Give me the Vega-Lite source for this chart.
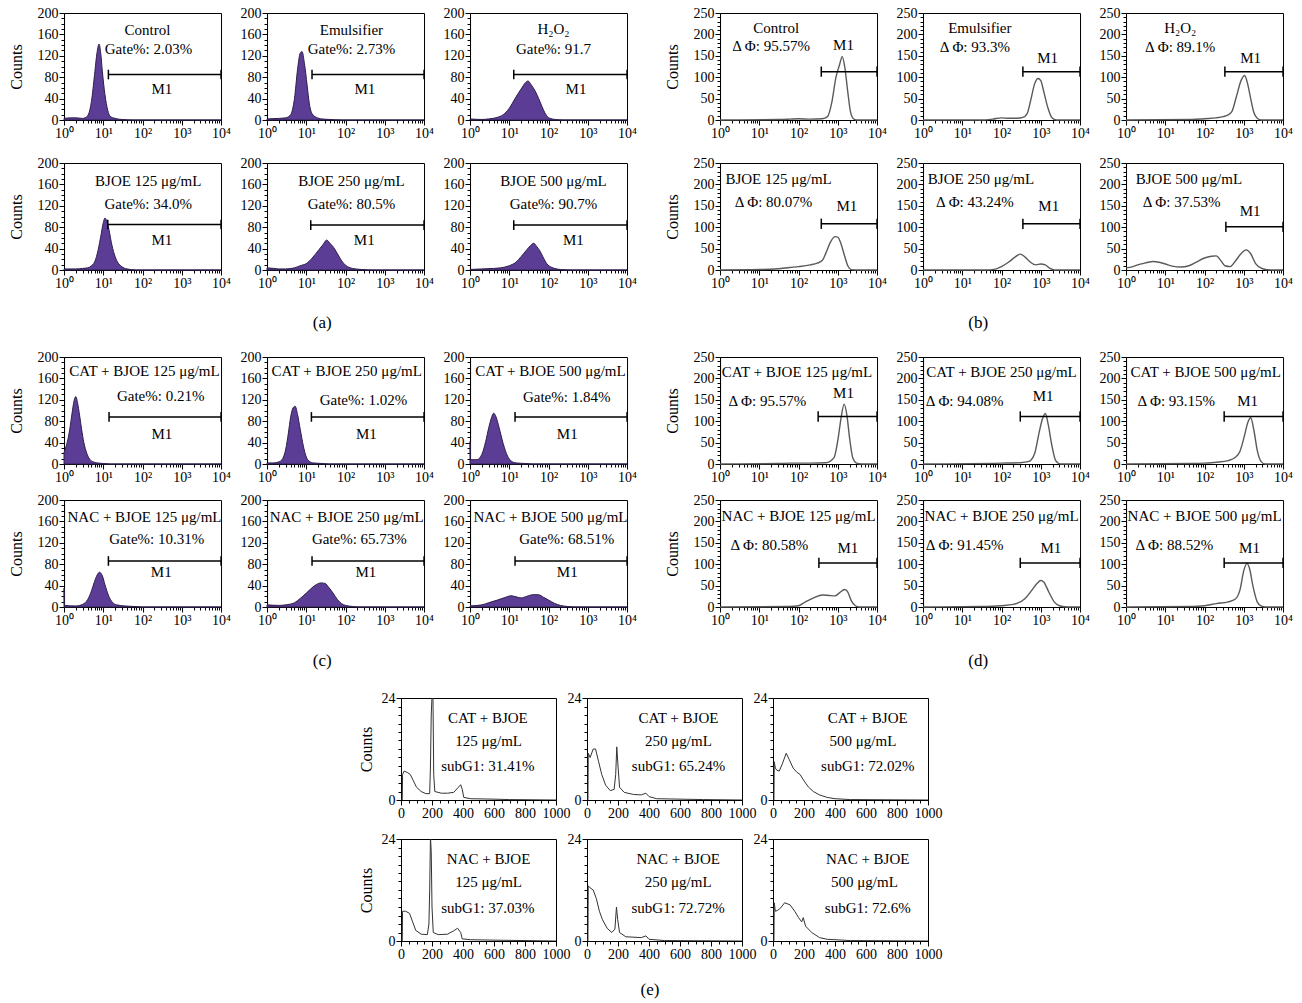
{
"$schema":"https://vega.github.io/schema/vega-lite/v6.json",
"background":"white",
"padding":{"left":7,"top":5,"right":5,"bottom":5},
"config":{
 "font":"Liberation Serif",
 "view":{"stroke":"#000","strokeWidth":1},
 "axis":{"grid":false,"domainColor":"#000","tickColor":"#000","labelColor":"#000","labelFont":"Liberation Serif","labelFontSize":14,"titleFont":"Liberation Serif","titleFontSize":16,"titleFontWeight":"normal","titleColor":"#000","labelPadding":1,"titlePadding":13},
 "text":{"font":"Liberation Serif","fontSize":15,"color":"#000"},
 "rule":{"color":"#000","strokeWidth":1.5},
 "title":{"font":"Liberation Serif","fontSize":17,"fontWeight":"normal","color":"#000","anchor":"middle"}
},
"spacing":18,
"center":true,
"vconcat":[
{"hconcat":[
 {"title":{"text":"(a)","orient":"bottom","anchor":"middle","offset":24},"spacing":14,"vconcat":[
  {"spacing":8,"hconcat":[
   {"width":157,"height":107,
    "encoding":{"x":{"field":"x","type":"quantitative","scale":{"type":"log","domain":[1,10000],"nice":false},"axis":{"title":null,"tickCount":40,"labelOverlap":false,"labelFlush":false,"labelExpr":"datum.value==1?'10⁰':datum.value==10?'10¹':datum.value==100?'10²':datum.value==1000?'10³':datum.value==10000?'10⁴':''","tickSize":{"condition":{"test":"datum.value==1||datum.value==10||datum.value==100||datum.value==1000||datum.value==10000","value":5},"value":3}}},
     "y":{"field":"y","type":"quantitative","scale":{"domain":[0,200],"nice":false},"axis":{"title":"Counts","tickCount":20,"labelOverlap":false,"labelExpr":"datum.value%40==0?datum.label:''","tickSize":{"condition":{"test":"datum.value%40==0","value":5},"value":3}}}},
    "layer":[
     {"data":{"values":[{"x":1,"y":3},{"x":1.5,"y":4},{"x":2,"y":4},{"x":3,"y":3},{"x":4,"y":8},{"x":5,"y":35},{"x":6,"y":85},{"x":7,"y":128},{"x":7.8,"y":142},{"x":8.6,"y":125},{"x":9.5,"y":90},{"x":11,"y":48},{"x":13,"y":18},{"x":15,"y":7},{"x":20,"y":3},{"x":30,"y":1},{"x":60,"y":0},{"x":10000,"y":0}]},"mark":{"type":"area","fill":"#5c3d96","stroke":"#2d1f4a","strokeWidth":1,"interpolate":"monotone"}},
     {"data":{"values":[{"x":13.5,"x2":10000,"y":85}]},"mark":"rule","encoding":{"x2":{"field":"x2"}}},
     {"data":{"values":[{"x":13.5,"y":76,"y2":94},{"x":10000,"y":76,"y2":94}]},"mark":"rule","encoding":{"y2":{"field":"y2"}}},
     {"data":{"values":[{"x":134,"y":168,"t":"Control"},{"x":142,"y":132,"t":"Gate%: 2.03%"},{"x":310,"y":58,"t":"M1"}]},"mark":"text","encoding":{"text":{"field":"t"}}}
    ]},
   {"width":157,"height":107,
    "encoding":{"x":{"field":"x","type":"quantitative","scale":{"type":"log","domain":[1,10000],"nice":false},"axis":{"title":null,"tickCount":40,"labelOverlap":false,"labelFlush":false,"labelExpr":"datum.value==1?'10⁰':datum.value==10?'10¹':datum.value==100?'10²':datum.value==1000?'10³':datum.value==10000?'10⁴':''","tickSize":{"condition":{"test":"datum.value==1||datum.value==10||datum.value==100||datum.value==1000||datum.value==10000","value":5},"value":3}}},
     "y":{"field":"y","type":"quantitative","scale":{"domain":[0,200],"nice":false},"axis":{"title":null,"tickCount":20,"labelOverlap":false,"labelExpr":"datum.value%40==0?datum.label:''","tickSize":{"condition":{"test":"datum.value%40==0","value":5},"value":3}}}},
    "layer":[
     {"data":{"values":[{"x":1,"y":2},{"x":2,"y":3},{"x":3,"y":4},{"x":4,"y":10},{"x":5,"y":40},{"x":6,"y":95},{"x":7,"y":125},{"x":7.8,"y":128},{"x":9,"y":105},{"x":10.5,"y":65},{"x":12,"y":30},{"x":14,"y":12},{"x":18,"y":5},{"x":25,"y":2},{"x":40,"y":1},{"x":80,"y":0},{"x":10000,"y":0}]},"mark":{"type":"area","fill":"#5c3d96","stroke":"#2d1f4a","strokeWidth":1,"interpolate":"monotone"}},
     {"data":{"values":[{"x":14,"x2":10000,"y":85}]},"mark":"rule","encoding":{"x2":{"field":"x2"}}},
     {"data":{"values":[{"x":14,"y":76,"y2":94},{"x":10000,"y":76,"y2":94}]},"mark":"rule","encoding":{"y2":{"field":"y2"}}},
     {"data":{"values":[{"x":141,"y":168,"t":"Emulsifier"},{"x":141,"y":132,"t":"Gate%: 2.73%"},{"x":310,"y":58,"t":"M1"}]},"mark":"text","encoding":{"text":{"field":"t"}}}
    ]},
   {"width":157,"height":107,
    "encoding":{"x":{"field":"x","type":"quantitative","scale":{"type":"log","domain":[1,10000],"nice":false},"axis":{"title":null,"tickCount":40,"labelOverlap":false,"labelFlush":false,"labelExpr":"datum.value==1?'10⁰':datum.value==10?'10¹':datum.value==100?'10²':datum.value==1000?'10³':datum.value==10000?'10⁴':''","tickSize":{"condition":{"test":"datum.value==1||datum.value==10||datum.value==100||datum.value==1000||datum.value==10000","value":5},"value":3}}},
     "y":{"field":"y","type":"quantitative","scale":{"domain":[0,200],"nice":false},"axis":{"title":null,"tickCount":20,"labelOverlap":false,"labelExpr":"datum.value%40==0?datum.label:''","tickSize":{"condition":{"test":"datum.value%40==0","value":5},"value":3}}}},
    "layer":[
     {"data":{"values":[{"x":1,"y":2},{"x":2,"y":1},{"x":3,"y":2},{"x":5,"y":5},{"x":7,"y":10},{"x":10,"y":22},{"x":14,"y":40},{"x":20,"y":58},{"x":26,"y":70},{"x":30,"y":73},{"x":36,"y":66},{"x":45,"y":55},{"x":60,"y":35},{"x":75,"y":18},{"x":90,"y":8},{"x":110,"y":3},{"x":150,"y":1},{"x":250,"y":0},{"x":10000,"y":0}]},"mark":{"type":"area","fill":"#5c3d96","stroke":"#2d1f4a","strokeWidth":1,"interpolate":"monotone"}},
     {"data":{"values":[{"x":13,"x2":10000,"y":85}]},"mark":"rule","encoding":{"x2":{"field":"x2"}}},
     {"data":{"values":[{"x":13,"y":76,"y2":94},{"x":10000,"y":76,"y2":94}]},"mark":"rule","encoding":{"y2":{"field":"y2"}}},
     {"data":{"values":[{"x":134,"y":170,"t":"H₂O₂"},{"x":134,"y":132,"t":"Gate%: 91.7"},{"x":500,"y":58,"t":"M1"}]},"mark":"text","encoding":{"text":{"field":"t"}}}
    ]}
  ]},
  {"spacing":8,"hconcat":[
   {"width":157,"height":107,
    "encoding":{"x":{"field":"x","type":"quantitative","scale":{"type":"log","domain":[1,10000],"nice":false},"axis":{"title":null,"tickCount":40,"labelOverlap":false,"labelFlush":false,"labelExpr":"datum.value==1?'10⁰':datum.value==10?'10¹':datum.value==100?'10²':datum.value==1000?'10³':datum.value==10000?'10⁴':''","tickSize":{"condition":{"test":"datum.value==1||datum.value==10||datum.value==100||datum.value==1000||datum.value==10000","value":5},"value":3}}},
     "y":{"field":"y","type":"quantitative","scale":{"domain":[0,200],"nice":false},"axis":{"title":"Counts","tickCount":20,"labelOverlap":false,"labelExpr":"datum.value%40==0?datum.label:''","tickSize":{"condition":{"test":"datum.value%40==0","value":5},"value":3}}}},
    "layer":[
     {"data":{"values":[{"x":1,"y":2},{"x":2,"y":2},{"x":3,"y":3},{"x":4,"y":4},{"x":5,"y":8},{"x":6,"y":15},{"x":7,"y":30},{"x":8.5,"y":60},{"x":10,"y":88},{"x":11,"y":97},{"x":12.5,"y":90},{"x":14,"y":75},{"x":16,"y":52},{"x":19,"y":30},{"x":23,"y":15},{"x":30,"y":6},{"x":40,"y":2},{"x":70,"y":0},{"x":10000,"y":0}]},"mark":{"type":"area","fill":"#5c3d96","stroke":"#2d1f4a","strokeWidth":1,"interpolate":"monotone"}},
     {"data":{"values":[{"x":13,"x2":10000,"y":85}]},"mark":"rule","encoding":{"x2":{"field":"x2"}}},
     {"data":{"values":[{"x":13,"y":76,"y2":94},{"x":10000,"y":76,"y2":94}]},"mark":"rule","encoding":{"y2":{"field":"y2"}}},
     {"data":{"values":[{"x":140,"y":166,"t":"BJOE 125 μg/mL"},{"x":140,"y":123,"t":"Gate%: 34.0%"},{"x":310,"y":56,"t":"M1"}]},"mark":"text","encoding":{"text":{"field":"t"}}}
    ]},
   {"width":157,"height":107,
    "encoding":{"x":{"field":"x","type":"quantitative","scale":{"type":"log","domain":[1,10000],"nice":false},"axis":{"title":null,"tickCount":40,"labelOverlap":false,"labelFlush":false,"labelExpr":"datum.value==1?'10⁰':datum.value==10?'10¹':datum.value==100?'10²':datum.value==1000?'10³':datum.value==10000?'10⁴':''","tickSize":{"condition":{"test":"datum.value==1||datum.value==10||datum.value==100||datum.value==1000||datum.value==10000","value":5},"value":3}}},
     "y":{"field":"y","type":"quantitative","scale":{"domain":[0,200],"nice":false},"axis":{"title":null,"tickCount":20,"labelOverlap":false,"labelExpr":"datum.value%40==0?datum.label:''","tickSize":{"condition":{"test":"datum.value%40==0","value":5},"value":3}}}},
    "layer":[
     {"data":{"values":[{"x":1,"y":4},{"x":1.5,"y":3},{"x":2,"y":2},{"x":3,"y":2},{"x":5,"y":4},{"x":7,"y":8},{"x":10,"y":12},{"x":14,"y":22},{"x":20,"y":36},{"x":27,"y":48},{"x":33,"y":56},{"x":40,"y":50},{"x":50,"y":42},{"x":65,"y":28},{"x":80,"y":17},{"x":100,"y":9},{"x":150,"y":3},{"x":250,"y":1},{"x":500,"y":0},{"x":10000,"y":0}]},"mark":{"type":"area","fill":"#5c3d96","stroke":"#2d1f4a","strokeWidth":1,"interpolate":"monotone"}},
     {"data":{"values":[{"x":13,"x2":10000,"y":84}]},"mark":"rule","encoding":{"x2":{"field":"x2"}}},
     {"data":{"values":[{"x":13,"y":75,"y2":93},{"x":10000,"y":75,"y2":93}]},"mark":"rule","encoding":{"y2":{"field":"y2"}}},
     {"data":{"values":[{"x":141,"y":166,"t":"BJOE 250 μg/mL"},{"x":141,"y":123,"t":"Gate%: 80.5%"},{"x":300,"y":56,"t":"M1"}]},"mark":"text","encoding":{"text":{"field":"t"}}}
    ]},
   {"width":157,"height":107,
    "encoding":{"x":{"field":"x","type":"quantitative","scale":{"type":"log","domain":[1,10000],"nice":false},"axis":{"title":null,"tickCount":40,"labelOverlap":false,"labelFlush":false,"labelExpr":"datum.value==1?'10⁰':datum.value==10?'10¹':datum.value==100?'10²':datum.value==1000?'10³':datum.value==10000?'10⁴':''","tickSize":{"condition":{"test":"datum.value==1||datum.value==10||datum.value==100||datum.value==1000||datum.value==10000","value":5},"value":3}}},
     "y":{"field":"y","type":"quantitative","scale":{"domain":[0,200],"nice":false},"axis":{"title":null,"tickCount":20,"labelOverlap":false,"labelExpr":"datum.value%40==0?datum.label:''","tickSize":{"condition":{"test":"datum.value%40==0","value":5},"value":3}}}},
    "layer":[
     {"data":{"values":[{"x":1,"y":1},{"x":2,"y":2},{"x":4,"y":3},{"x":6,"y":4},{"x":10,"y":8},{"x":15,"y":15},{"x":20,"y":25},{"x":28,"y":38},{"x":35,"y":46},{"x":42,"y":50},{"x":50,"y":44},{"x":60,"y":36},{"x":75,"y":22},{"x":90,"y":12},{"x":120,"y":5},{"x":200,"y":1},{"x":400,"y":0},{"x":10000,"y":0}]},"mark":{"type":"area","fill":"#5c3d96","stroke":"#2d1f4a","strokeWidth":1,"interpolate":"monotone"}},
     {"data":{"values":[{"x":13,"x2":10000,"y":84}]},"mark":"rule","encoding":{"x2":{"field":"x2"}}},
     {"data":{"values":[{"x":13,"y":75,"y2":93},{"x":10000,"y":75,"y2":93}]},"mark":"rule","encoding":{"y2":{"field":"y2"}}},
     {"data":{"values":[{"x":134,"y":166,"t":"BJOE 500 μg/mL"},{"x":134,"y":123,"t":"Gate%: 90.7%"},{"x":430,"y":56,"t":"M1"}]},"mark":"text","encoding":{"text":{"field":"t"}}}
    ]}
  ]}
 ]},
 {"title":{"text":"(b)","orient":"bottom","anchor":"middle","offset":24},"spacing":14,"vconcat":[
  {"spacing":8,"hconcat":[
   {"width":157,"height":107,
    "encoding":{"x":{"field":"x","type":"quantitative","scale":{"type":"log","domain":[1,10000],"nice":false},"axis":{"title":null,"tickCount":40,"labelOverlap":false,"labelFlush":false,"labelExpr":"datum.value==1?'10⁰':datum.value==10?'10¹':datum.value==100?'10²':datum.value==1000?'10³':datum.value==10000?'10⁴':''","tickSize":{"condition":{"test":"datum.value==1||datum.value==10||datum.value==100||datum.value==1000||datum.value==10000","value":5},"value":3}}},
     "y":{"field":"y","type":"quantitative","scale":{"domain":[0,250],"nice":false},"axis":{"title":"Counts","tickCount":25,"labelOverlap":false,"labelExpr":"datum.value%50==0?datum.label:''","tickSize":{"condition":{"test":"datum.value%50==0","value":5},"value":3}}}},
    "layer":[
     {"data":{"values":[{"x":1,"y":0},{"x":30,"y":1},{"x":60,"y":2},{"x":100,"y":3},{"x":200,"y":2},{"x":400,"y":3},{"x":550,"y":8},{"x":700,"y":40},{"x":900,"y":100},{"x":1100,"y":128},{"x":1300,"y":148},{"x":1500,"y":125},{"x":1800,"y":65},{"x":2100,"y":20},{"x":2500,"y":3},{"x":3000,"y":0},{"x":10000,"y":0}]},"mark":{"type":"line","stroke":"#5a5a5a","strokeWidth":1.4,"interpolate":"monotone"}},
     {"data":{"values":[{"x":380,"x2":10000,"y":113}]},"mark":"rule","encoding":{"x2":{"field":"x2"}}},
     {"data":{"values":[{"x":380,"y":101,"y2":125},{"x":10000,"y":101,"y2":125}]},"mark":"rule","encoding":{"y2":{"field":"y2"}}},
     {"data":{"values":[{"x":27,"y":215,"t":"Control"},{"x":20,"y":172,"t":"Δ Φ: 95.57%"},{"x":1400,"y":176,"t":"M1"}]},"mark":"text","encoding":{"text":{"field":"t"}}}
    ]},
   {"width":157,"height":107,
    "encoding":{"x":{"field":"x","type":"quantitative","scale":{"type":"log","domain":[1,10000],"nice":false},"axis":{"title":null,"tickCount":40,"labelOverlap":false,"labelFlush":false,"labelExpr":"datum.value==1?'10⁰':datum.value==10?'10¹':datum.value==100?'10²':datum.value==1000?'10³':datum.value==10000?'10⁴':''","tickSize":{"condition":{"test":"datum.value==1||datum.value==10||datum.value==100||datum.value==1000||datum.value==10000","value":5},"value":3}}},
     "y":{"field":"y","type":"quantitative","scale":{"domain":[0,250],"nice":false},"axis":{"title":null,"tickCount":25,"labelOverlap":false,"labelExpr":"datum.value%50==0?datum.label:''","tickSize":{"condition":{"test":"datum.value%50==0","value":5},"value":3}}}},
    "layer":[
     {"data":{"values":[{"x":1,"y":0},{"x":30,"y":0},{"x":60,"y":2},{"x":100,"y":5},{"x":150,"y":4},{"x":250,"y":4},{"x":350,"y":6},{"x":450,"y":15},{"x":550,"y":45},{"x":700,"y":85},{"x":850,"y":97},{"x":1000,"y":92},{"x":1200,"y":65},{"x":1500,"y":30},{"x":1900,"y":6},{"x":2500,"y":0},{"x":10000,"y":0}]},"mark":{"type":"line","stroke":"#5a5a5a","strokeWidth":1.4,"interpolate":"monotone"}},
     {"data":{"values":[{"x":350,"x2":10000,"y":113}]},"mark":"rule","encoding":{"x2":{"field":"x2"}}},
     {"data":{"values":[{"x":350,"y":101,"y2":125},{"x":10000,"y":101,"y2":125}]},"mark":"rule","encoding":{"y2":{"field":"y2"}}},
     {"data":{"values":[{"x":28,"y":215,"t":"Emulsifier"},{"x":21,"y":170,"t":"Δ Φ: 93.3%"},{"x":1500,"y":144,"t":"M1"}]},"mark":"text","encoding":{"text":{"field":"t"}}}
    ]},
   {"width":157,"height":107,
    "encoding":{"x":{"field":"x","type":"quantitative","scale":{"type":"log","domain":[1,10000],"nice":false},"axis":{"title":null,"tickCount":40,"labelOverlap":false,"labelFlush":false,"labelExpr":"datum.value==1?'10⁰':datum.value==10?'10¹':datum.value==100?'10²':datum.value==1000?'10³':datum.value==10000?'10⁴':''","tickSize":{"condition":{"test":"datum.value==1||datum.value==10||datum.value==100||datum.value==1000||datum.value==10000","value":5},"value":3}}},
     "y":{"field":"y","type":"quantitative","scale":{"domain":[0,250],"nice":false},"axis":{"title":null,"tickCount":25,"labelOverlap":false,"labelExpr":"datum.value%50==0?datum.label:''","tickSize":{"condition":{"test":"datum.value%50==0","value":5},"value":3}}}},
    "layer":[
     {"data":{"values":[{"x":1,"y":0},{"x":50,"y":1},{"x":100,"y":3},{"x":200,"y":5},{"x":300,"y":8},{"x":400,"y":12},{"x":500,"y":20},{"x":650,"y":55},{"x":850,"y":92},{"x":1050,"y":104},{"x":1250,"y":85},{"x":1500,"y":50},{"x":1800,"y":18},{"x":2200,"y":4},{"x":2800,"y":0},{"x":10000,"y":0}]},"mark":{"type":"line","stroke":"#5a5a5a","strokeWidth":1.4,"interpolate":"monotone"}},
     {"data":{"values":[{"x":330,"x2":10000,"y":113}]},"mark":"rule","encoding":{"x2":{"field":"x2"}}},
     {"data":{"values":[{"x":330,"y":101,"y2":125},{"x":10000,"y":101,"y2":125}]},"mark":"rule","encoding":{"y2":{"field":"y2"}}},
     {"data":{"values":[{"x":24,"y":215,"t":"H₂O₂"},{"x":24,"y":170,"t":"Δ Φ: 89.1%"},{"x":1500,"y":144,"t":"M1"}]},"mark":"text","encoding":{"text":{"field":"t"}}}
    ]}
  ]},
  {"spacing":8,"hconcat":[
   {"width":157,"height":107,
    "encoding":{"x":{"field":"x","type":"quantitative","scale":{"type":"log","domain":[1,10000],"nice":false},"axis":{"title":null,"tickCount":40,"labelOverlap":false,"labelFlush":false,"labelExpr":"datum.value==1?'10⁰':datum.value==10?'10¹':datum.value==100?'10²':datum.value==1000?'10³':datum.value==10000?'10⁴':''","tickSize":{"condition":{"test":"datum.value==1||datum.value==10||datum.value==100||datum.value==1000||datum.value==10000","value":5},"value":3}}},
     "y":{"field":"y","type":"quantitative","scale":{"domain":[0,250],"nice":false},"axis":{"title":"Counts","tickCount":25,"labelOverlap":false,"labelExpr":"datum.value%50==0?datum.label:''","tickSize":{"condition":{"test":"datum.value%50==0","value":5},"value":3}}}},
    "layer":[
     {"data":{"values":[{"x":1,"y":0},{"x":10,"y":1},{"x":30,"y":3},{"x":60,"y":6},{"x":100,"y":8},{"x":200,"y":12},{"x":300,"y":16},{"x":400,"y":22},{"x":500,"y":40},{"x":650,"y":65},{"x":850,"y":78},{"x":1000,"y":77},{"x":1200,"y":62},{"x":1500,"y":32},{"x":1800,"y":10},{"x":2200,"y":1},{"x":3000,"y":0},{"x":10000,"y":0}]},"mark":{"type":"line","stroke":"#5a5a5a","strokeWidth":1.4,"interpolate":"monotone"}},
     {"data":{"values":[{"x":380,"x2":10000,"y":108}]},"mark":"rule","encoding":{"x2":{"field":"x2"}}},
     {"data":{"values":[{"x":380,"y":96,"y2":120},{"x":10000,"y":96,"y2":120}]},"mark":"rule","encoding":{"y2":{"field":"y2"}}},
     {"data":{"values":[{"x":31,"y":212,"t":"BJOE 125 μg/mL"},{"x":23,"y":160,"t":"Δ Φ: 80.07%"},{"x":1700,"y":149,"t":"M1"}]},"mark":"text","encoding":{"text":{"field":"t"}}}
    ]},
   {"width":157,"height":107,
    "encoding":{"x":{"field":"x","type":"quantitative","scale":{"type":"log","domain":[1,10000],"nice":false},"axis":{"title":null,"tickCount":40,"labelOverlap":false,"labelFlush":false,"labelExpr":"datum.value==1?'10⁰':datum.value==10?'10¹':datum.value==100?'10²':datum.value==1000?'10³':datum.value==10000?'10⁴':''","tickSize":{"condition":{"test":"datum.value==1||datum.value==10||datum.value==100||datum.value==1000||datum.value==10000","value":5},"value":3}}},
     "y":{"field":"y","type":"quantitative","scale":{"domain":[0,250],"nice":false},"axis":{"title":null,"tickCount":25,"labelOverlap":false,"labelExpr":"datum.value%50==0?datum.label:''","tickSize":{"condition":{"test":"datum.value%50==0","value":5},"value":3}}}},
    "layer":[
     {"data":{"values":[{"x":1,"y":0},{"x":40,"y":0},{"x":70,"y":2},{"x":100,"y":8},{"x":150,"y":18},{"x":220,"y":30},{"x":300,"y":37},{"x":400,"y":30},{"x":550,"y":18},{"x":750,"y":12},{"x":1000,"y":14},{"x":1300,"y":12},{"x":1700,"y":4},{"x":2200,"y":0},{"x":10000,"y":0}]},"mark":{"type":"line","stroke":"#5a5a5a","strokeWidth":1.4,"interpolate":"monotone"}},
     {"data":{"values":[{"x":350,"x2":10000,"y":108}]},"mark":"rule","encoding":{"x2":{"field":"x2"}}},
     {"data":{"values":[{"x":350,"y":96,"y2":120},{"x":10000,"y":96,"y2":120}]},"mark":"rule","encoding":{"y2":{"field":"y2"}}},
     {"data":{"values":[{"x":30,"y":212,"t":"BJOE 250 μg/mL"},{"x":21,"y":160,"t":"Δ Φ: 43.24%"},{"x":1600,"y":149,"t":"M1"}]},"mark":"text","encoding":{"text":{"field":"t"}}}
    ]},
   {"width":157,"height":107,
    "encoding":{"x":{"field":"x","type":"quantitative","scale":{"type":"log","domain":[1,10000],"nice":false},"axis":{"title":null,"tickCount":40,"labelOverlap":false,"labelFlush":false,"labelExpr":"datum.value==1?'10⁰':datum.value==10?'10¹':datum.value==100?'10²':datum.value==1000?'10³':datum.value==10000?'10⁴':''","tickSize":{"condition":{"test":"datum.value==1||datum.value==10||datum.value==100||datum.value==1000||datum.value==10000","value":5},"value":3}}},
     "y":{"field":"y","type":"quantitative","scale":{"domain":[0,250],"nice":false},"axis":{"title":null,"tickCount":25,"labelOverlap":false,"labelExpr":"datum.value%50==0?datum.label:''","tickSize":{"condition":{"test":"datum.value%50==0","value":5},"value":3}}}},
    "layer":[
     {"data":{"values":[{"x":1,"y":5},{"x":1.5,"y":8},{"x":2,"y":12},{"x":3,"y":16},{"x":5,"y":20},{"x":7,"y":18},{"x":10,"y":14},{"x":15,"y":9},{"x":25,"y":7},{"x":40,"y":10},{"x":60,"y":18},{"x":100,"y":28},{"x":150,"y":32},{"x":200,"y":33},{"x":260,"y":22},{"x":330,"y":10},{"x":450,"y":8},{"x":600,"y":20},{"x":850,"y":38},{"x":1150,"y":47},{"x":1500,"y":38},{"x":2000,"y":15},{"x":3000,"y":3},{"x":5000,"y":0},{"x":10000,"y":0}]},"mark":{"type":"line","stroke":"#5a5a5a","strokeWidth":1.4,"interpolate":"monotone"}},
     {"data":{"values":[{"x":350,"x2":10000,"y":101}]},"mark":"rule","encoding":{"x2":{"field":"x2"}}},
     {"data":{"values":[{"x":350,"y":89,"y2":113},{"x":10000,"y":89,"y2":113}]},"mark":"rule","encoding":{"y2":{"field":"y2"}}},
     {"data":{"values":[{"x":40,"y":212,"t":"BJOE 500 μg/mL"},{"x":26,"y":160,"t":"Δ Φ: 37.53%"},{"x":1450,"y":139,"t":"M1"}]},"mark":"text","encoding":{"text":{"field":"t"}}}
    ]}
  ]}
 ]}
],"spacing":26},
{"spacing":21,"center":true,"vconcat":[
{"hconcat":[
 {"title":{"text":"(c)","orient":"bottom","anchor":"middle","offset":25},"spacing":7,"vconcat":[
  {"spacing":8,"hconcat":[
   {"width":157,"height":107,
    "encoding":{"x":{"field":"x","type":"quantitative","scale":{"type":"log","domain":[1,10000],"nice":false},"axis":{"title":null,"tickCount":40,"labelOverlap":false,"labelFlush":false,"labelExpr":"datum.value==1?'10⁰':datum.value==10?'10¹':datum.value==100?'10²':datum.value==1000?'10³':datum.value==10000?'10⁴':''","tickSize":{"condition":{"test":"datum.value==1||datum.value==10||datum.value==100||datum.value==1000||datum.value==10000","value":5},"value":3}}},
     "y":{"field":"y","type":"quantitative","scale":{"domain":[0,200],"nice":false},"axis":{"title":"Counts","tickCount":20,"labelOverlap":false,"labelExpr":"datum.value%40==0?datum.label:''","tickSize":{"condition":{"test":"datum.value%40==0","value":5},"value":3}}}},
    "layer":[
     {"data":{"values":[{"x":1,"y":22},{"x":1.2,"y":40},{"x":1.4,"y":65},{"x":1.6,"y":95},{"x":1.8,"y":118},{"x":2,"y":126},{"x":2.2,"y":115},{"x":2.5,"y":90},{"x":2.8,"y":65},{"x":3.2,"y":40},{"x":3.8,"y":20},{"x":4.5,"y":9},{"x":5.5,"y":4},{"x":7,"y":2},{"x":10,"y":1},{"x":15,"y":0},{"x":10000,"y":0}]},"mark":{"type":"area","fill":"#5c3d96","stroke":"#2d1f4a","strokeWidth":1,"interpolate":"monotone"}},
     {"data":{"values":[{"x":14,"x2":10000,"y":88}]},"mark":"rule","encoding":{"x2":{"field":"x2"}}},
     {"data":{"values":[{"x":14,"y":79,"y2":97},{"x":10000,"y":79,"y2":97}]},"mark":"rule","encoding":{"y2":{"field":"y2"}}},
     {"data":{"values":[{"x":112,"y":174,"t":"CAT + BJOE 125 μg/mL"},{"x":290,"y":127,"t":"Gate%: 0.21%"},{"x":310,"y":57,"t":"M1"}]},"mark":"text","encoding":{"text":{"field":"t"}}}
    ]},
   {"width":157,"height":107,
    "encoding":{"x":{"field":"x","type":"quantitative","scale":{"type":"log","domain":[1,10000],"nice":false},"axis":{"title":null,"tickCount":40,"labelOverlap":false,"labelFlush":false,"labelExpr":"datum.value==1?'10⁰':datum.value==10?'10¹':datum.value==100?'10²':datum.value==1000?'10³':datum.value==10000?'10⁴':''","tickSize":{"condition":{"test":"datum.value==1||datum.value==10||datum.value==100||datum.value==1000||datum.value==10000","value":5},"value":3}}},
     "y":{"field":"y","type":"quantitative","scale":{"domain":[0,200],"nice":false},"axis":{"title":null,"tickCount":20,"labelOverlap":false,"labelExpr":"datum.value%40==0?datum.label:''","tickSize":{"condition":{"test":"datum.value%40==0","value":5},"value":3}}}},
    "layer":[
     {"data":{"values":[{"x":1,"y":2},{"x":1.5,"y":2},{"x":2,"y":4},{"x":2.5,"y":10},{"x":3,"y":28},{"x":3.5,"y":58},{"x":4,"y":88},{"x":4.6,"y":105},{"x":5.2,"y":108},{"x":6,"y":92},{"x":7,"y":65},{"x":8.5,"y":32},{"x":10,"y":13},{"x":12,"y":5},{"x":15,"y":2},{"x":25,"y":1},{"x":40,"y":0},{"x":10000,"y":0}]},"mark":{"type":"area","fill":"#5c3d96","stroke":"#2d1f4a","strokeWidth":1,"interpolate":"monotone"}},
     {"data":{"values":[{"x":13.5,"x2":10000,"y":88}]},"mark":"rule","encoding":{"x2":{"field":"x2"}}},
     {"data":{"values":[{"x":13.5,"y":79,"y2":97},{"x":10000,"y":79,"y2":97}]},"mark":"rule","encoding":{"y2":{"field":"y2"}}},
     {"data":{"values":[{"x":107,"y":174,"t":"CAT + BJOE 250 μg/mL"},{"x":285,"y":119,"t":"Gate%: 1.02%"},{"x":340,"y":57,"t":"M1"}]},"mark":"text","encoding":{"text":{"field":"t"}}}
    ]},
   {"width":157,"height":107,
    "encoding":{"x":{"field":"x","type":"quantitative","scale":{"type":"log","domain":[1,10000],"nice":false},"axis":{"title":null,"tickCount":40,"labelOverlap":false,"labelFlush":false,"labelExpr":"datum.value==1?'10⁰':datum.value==10?'10¹':datum.value==100?'10²':datum.value==1000?'10³':datum.value==10000?'10⁴':''","tickSize":{"condition":{"test":"datum.value==1||datum.value==10||datum.value==100||datum.value==1000||datum.value==10000","value":5},"value":3}}},
     "y":{"field":"y","type":"quantitative","scale":{"domain":[0,200],"nice":false},"axis":{"title":null,"tickCount":20,"labelOverlap":false,"labelExpr":"datum.value%40==0?datum.label:''","tickSize":{"condition":{"test":"datum.value%40==0","value":5},"value":3}}}},
    "layer":[
     {"data":{"values":[{"x":1,"y":42},{"x":1.03,"y":8},{"x":1.5,"y":8},{"x":2,"y":18},{"x":2.5,"y":42},{"x":3,"y":68},{"x":3.5,"y":86},{"x":4,"y":95},{"x":4.6,"y":88},{"x":5.5,"y":68},{"x":7,"y":38},{"x":9,"y":15},{"x":11,"y":6},{"x":15,"y":2},{"x":25,"y":1},{"x":40,"y":0},{"x":10000,"y":0}]},"mark":{"type":"area","fill":"#5c3d96","stroke":"#2d1f4a","strokeWidth":1,"interpolate":"monotone"}},
     {"data":{"values":[{"x":14,"x2":10000,"y":88}]},"mark":"rule","encoding":{"x2":{"field":"x2"}}},
     {"data":{"values":[{"x":14,"y":79,"y2":97},{"x":10000,"y":79,"y2":97}]},"mark":"rule","encoding":{"y2":{"field":"y2"}}},
     {"data":{"values":[{"x":112,"y":174,"t":"CAT + BJOE 500 μg/mL"},{"x":290,"y":126,"t":"Gate%: 1.84%"},{"x":300,"y":57,"t":"M1"}]},"mark":"text","encoding":{"text":{"field":"t"}}}
    ]}
  ]},
  {"spacing":8,"hconcat":[
   {"width":157,"height":107,
    "encoding":{"x":{"field":"x","type":"quantitative","scale":{"type":"log","domain":[1,10000],"nice":false},"axis":{"title":null,"tickCount":40,"labelOverlap":false,"labelFlush":false,"labelExpr":"datum.value==1?'10⁰':datum.value==10?'10¹':datum.value==100?'10²':datum.value==1000?'10³':datum.value==10000?'10⁴':''","tickSize":{"condition":{"test":"datum.value==1||datum.value==10||datum.value==100||datum.value==1000||datum.value==10000","value":5},"value":3}}},
     "y":{"field":"y","type":"quantitative","scale":{"domain":[0,200],"nice":false},"axis":{"title":"Counts","tickCount":20,"labelOverlap":false,"labelExpr":"datum.value%40==0?datum.label:''","tickSize":{"condition":{"test":"datum.value%40==0","value":5},"value":3}}}},
    "layer":[
     {"data":{"values":[{"x":1,"y":35},{"x":1.03,"y":3},{"x":2,"y":2},{"x":3,"y":5},{"x":4,"y":14},{"x":5,"y":30},{"x":6,"y":48},{"x":7,"y":60},{"x":8,"y":65},{"x":9.5,"y":58},{"x":11,"y":42},{"x":13.5,"y":22},{"x":17,"y":9},{"x":22,"y":4},{"x":35,"y":2},{"x":60,"y":1},{"x":100,"y":0},{"x":10000,"y":0}]},"mark":{"type":"area","fill":"#5c3d96","stroke":"#2d1f4a","strokeWidth":1,"interpolate":"monotone"}},
     {"data":{"values":[{"x":13.5,"x2":10000,"y":86}]},"mark":"rule","encoding":{"x2":{"field":"x2"}}},
     {"data":{"values":[{"x":13.5,"y":77,"y2":95},{"x":10000,"y":77,"y2":95}]},"mark":"rule","encoding":{"y2":{"field":"y2"}}},
     {"data":{"values":[{"x":112,"y":168,"t":"NAC + BJOE 125 μg/mL"},{"x":230,"y":127,"t":"Gate%: 10.31%"},{"x":300,"y":65,"t":"M1"}]},"mark":"text","encoding":{"text":{"field":"t"}}}
    ]},
   {"width":157,"height":107,
    "encoding":{"x":{"field":"x","type":"quantitative","scale":{"type":"log","domain":[1,10000],"nice":false},"axis":{"title":null,"tickCount":40,"labelOverlap":false,"labelFlush":false,"labelExpr":"datum.value==1?'10⁰':datum.value==10?'10¹':datum.value==100?'10²':datum.value==1000?'10³':datum.value==10000?'10⁴':''","tickSize":{"condition":{"test":"datum.value==1||datum.value==10||datum.value==100||datum.value==1000||datum.value==10000","value":5},"value":3}}},
     "y":{"field":"y","type":"quantitative","scale":{"domain":[0,200],"nice":false},"axis":{"title":null,"tickCount":20,"labelOverlap":false,"labelExpr":"datum.value%40==0?datum.label:''","tickSize":{"condition":{"test":"datum.value%40==0","value":5},"value":3}}}},
    "layer":[
     {"data":{"values":[{"x":1,"y":4},{"x":2,"y":3},{"x":3,"y":4},{"x":5,"y":8},{"x":7,"y":16},{"x":10,"y":26},{"x":14,"y":36},{"x":18,"y":42},{"x":24,"y":45},{"x":30,"y":44},{"x":38,"y":36},{"x":48,"y":26},{"x":62,"y":14},{"x":80,"y":6},{"x":100,"y":3},{"x":150,"y":1},{"x":250,"y":0},{"x":10000,"y":0}]},"mark":{"type":"area","fill":"#5c3d96","stroke":"#2d1f4a","strokeWidth":1,"interpolate":"monotone"}},
     {"data":{"values":[{"x":14,"x2":10000,"y":86}]},"mark":"rule","encoding":{"x2":{"field":"x2"}}},
     {"data":{"values":[{"x":14,"y":77,"y2":95},{"x":10000,"y":77,"y2":95}]},"mark":"rule","encoding":{"y2":{"field":"y2"}}},
     {"data":{"values":[{"x":107,"y":168,"t":"NAC + BJOE 250 μg/mL"},{"x":225,"y":127,"t":"Gate%: 65.73%"},{"x":330,"y":65,"t":"M1"}]},"mark":"text","encoding":{"text":{"field":"t"}}}
    ]},
   {"width":157,"height":107,
    "encoding":{"x":{"field":"x","type":"quantitative","scale":{"type":"log","domain":[1,10000],"nice":false},"axis":{"title":null,"tickCount":40,"labelOverlap":false,"labelFlush":false,"labelExpr":"datum.value==1?'10⁰':datum.value==10?'10¹':datum.value==100?'10²':datum.value==1000?'10³':datum.value==10000?'10⁴':''","tickSize":{"condition":{"test":"datum.value==1||datum.value==10||datum.value==100||datum.value==1000||datum.value==10000","value":5},"value":3}}},
     "y":{"field":"y","type":"quantitative","scale":{"domain":[0,200],"nice":false},"axis":{"title":null,"tickCount":20,"labelOverlap":false,"labelExpr":"datum.value%40==0?datum.label:''","tickSize":{"condition":{"test":"datum.value%40==0","value":5},"value":3}}}},
    "layer":[
     {"data":{"values":[{"x":1,"y":2},{"x":2,"y":4},{"x":3,"y":8},{"x":5,"y":13},{"x":8,"y":18},{"x":11,"y":21},{"x":15,"y":19},{"x":20,"y":17},{"x":28,"y":20},{"x":40,"y":23},{"x":55,"y":23},{"x":75,"y":18},{"x":100,"y":13},{"x":140,"y":7},{"x":200,"y":3},{"x":300,"y":1},{"x":500,"y":0},{"x":10000,"y":0}]},"mark":{"type":"area","fill":"#5c3d96","stroke":"#2d1f4a","strokeWidth":1,"interpolate":"monotone"}},
     {"data":{"values":[{"x":14,"x2":10000,"y":86}]},"mark":"rule","encoding":{"x2":{"field":"x2"}}},
     {"data":{"values":[{"x":14,"y":77,"y2":95},{"x":10000,"y":77,"y2":95}]},"mark":"rule","encoding":{"y2":{"field":"y2"}}},
     {"data":{"values":[{"x":112,"y":168,"t":"NAC + BJOE 500 μg/mL"},{"x":290,"y":127,"t":"Gate%: 68.51%"},{"x":300,"y":65,"t":"M1"}]},"mark":"text","encoding":{"text":{"field":"t"}}}
    ]}
  ]}
 ]},
 {"title":{"text":"(d)","orient":"bottom","anchor":"middle","offset":25},"spacing":7,"vconcat":[
  {"spacing":8,"hconcat":[
   {"width":157,"height":107,
    "encoding":{"x":{"field":"x","type":"quantitative","scale":{"type":"log","domain":[1,10000],"nice":false},"axis":{"title":null,"tickCount":40,"labelOverlap":false,"labelFlush":false,"labelExpr":"datum.value==1?'10⁰':datum.value==10?'10¹':datum.value==100?'10²':datum.value==1000?'10³':datum.value==10000?'10⁴':''","tickSize":{"condition":{"test":"datum.value==1||datum.value==10||datum.value==100||datum.value==1000||datum.value==10000","value":5},"value":3}}},
     "y":{"field":"y","type":"quantitative","scale":{"domain":[0,250],"nice":false},"axis":{"title":"Counts","tickCount":25,"labelOverlap":false,"labelExpr":"datum.value%50==0?datum.label:''","tickSize":{"condition":{"test":"datum.value%50==0","value":5},"value":3}}}},
    "layer":[
     {"data":{"values":[{"x":1,"y":0},{"x":30,"y":1},{"x":60,"y":2},{"x":200,"y":2},{"x":500,"y":3},{"x":800,"y":15},{"x":1000,"y":55},{"x":1200,"y":105},{"x":1450,"y":140},{"x":1700,"y":115},{"x":2000,"y":60},{"x":2400,"y":15},{"x":3000,"y":2},{"x":4000,"y":0},{"x":10000,"y":0}]},"mark":{"type":"line","stroke":"#5a5a5a","strokeWidth":1.4,"interpolate":"monotone"}},
     {"data":{"values":[{"x":316,"x2":10000,"y":111}]},"mark":"rule","encoding":{"x2":{"field":"x2"}}},
     {"data":{"values":[{"x":316,"y":99,"y2":123},{"x":10000,"y":99,"y2":123}]},"mark":"rule","encoding":{"y2":{"field":"y2"}}},
     {"data":{"values":[{"x":91,"y":215,"t":"CAT + BJOE 125 μg/mL"},{"x":16,"y":148,"t":"Δ Φ: 95.57%"},{"x":1400,"y":167,"t":"M1"}]},"mark":"text","encoding":{"text":{"field":"t"}}}
    ]},
   {"width":157,"height":107,
    "encoding":{"x":{"field":"x","type":"quantitative","scale":{"type":"log","domain":[1,10000],"nice":false},"axis":{"title":null,"tickCount":40,"labelOverlap":false,"labelFlush":false,"labelExpr":"datum.value==1?'10⁰':datum.value==10?'10¹':datum.value==100?'10²':datum.value==1000?'10³':datum.value==10000?'10⁴':''","tickSize":{"condition":{"test":"datum.value==1||datum.value==10||datum.value==100||datum.value==1000||datum.value==10000","value":5},"value":3}}},
     "y":{"field":"y","type":"quantitative","scale":{"domain":[0,250],"nice":false},"axis":{"title":null,"tickCount":25,"labelOverlap":false,"labelExpr":"datum.value%50==0?datum.label:''","tickSize":{"condition":{"test":"datum.value%50==0","value":5},"value":3}}}},
    "layer":[
     {"data":{"values":[{"x":1,"y":0},{"x":100,"y":2},{"x":300,"y":3},{"x":500,"y":6},{"x":700,"y":25},{"x":900,"y":72},{"x":1100,"y":105},{"x":1300,"y":118},{"x":1550,"y":92},{"x":1900,"y":45},{"x":2400,"y":8},{"x":3200,"y":0},{"x":10000,"y":0}]},"mark":{"type":"line","stroke":"#5a5a5a","strokeWidth":1.4,"interpolate":"monotone"}},
     {"data":{"values":[{"x":300,"x2":10000,"y":111}]},"mark":"rule","encoding":{"x2":{"field":"x2"}}},
     {"data":{"values":[{"x":300,"y":99,"y2":123},{"x":10000,"y":99,"y2":123}]},"mark":"rule","encoding":{"y2":{"field":"y2"}}},
     {"data":{"values":[{"x":100,"y":215,"t":"CAT + BJOE 250 μg/mL"},{"x":11.5,"y":148,"t":"Δ Φ: 94.08%"},{"x":1150,"y":160,"t":"M1"}]},"mark":"text","encoding":{"text":{"field":"t"}}}
    ]},
   {"width":157,"height":107,
    "encoding":{"x":{"field":"x","type":"quantitative","scale":{"type":"log","domain":[1,10000],"nice":false},"axis":{"title":null,"tickCount":40,"labelOverlap":false,"labelFlush":false,"labelExpr":"datum.value==1?'10⁰':datum.value==10?'10¹':datum.value==100?'10²':datum.value==1000?'10³':datum.value==10000?'10⁴':''","tickSize":{"condition":{"test":"datum.value==1||datum.value==10||datum.value==100||datum.value==1000||datum.value==10000","value":5},"value":3}}},
     "y":{"field":"y","type":"quantitative","scale":{"domain":[0,250],"nice":false},"axis":{"title":null,"tickCount":25,"labelOverlap":false,"labelExpr":"datum.value%50==0?datum.label:''","tickSize":{"condition":{"test":"datum.value%50==0","value":5},"value":3}}}},
    "layer":[
     {"data":{"values":[{"x":1,"y":0},{"x":50,"y":1},{"x":100,"y":2},{"x":200,"y":4},{"x":400,"y":8},{"x":600,"y":15},{"x":800,"y":30},{"x":1000,"y":60},{"x":1300,"y":100},{"x":1500,"y":108},{"x":1800,"y":80},{"x":2200,"y":32},{"x":2800,"y":5},{"x":3500,"y":0},{"x":10000,"y":0}]},"mark":{"type":"line","stroke":"#5a5a5a","strokeWidth":1.4,"interpolate":"monotone"}},
     {"data":{"values":[{"x":316,"x2":10000,"y":111}]},"mark":"rule","encoding":{"x2":{"field":"x2"}}},
     {"data":{"values":[{"x":316,"y":99,"y2":123},{"x":10000,"y":99,"y2":123}]},"mark":"rule","encoding":{"y2":{"field":"y2"}}},
     {"data":{"values":[{"x":107,"y":215,"t":"CAT + BJOE 500 μg/mL"},{"x":19,"y":148,"t":"Δ Φ: 93.15%"},{"x":1250,"y":148,"t":"M1"}]},"mark":"text","encoding":{"text":{"field":"t"}}}
    ]}
  ]},
  {"spacing":8,"hconcat":[
   {"width":157,"height":107,
    "encoding":{"x":{"field":"x","type":"quantitative","scale":{"type":"log","domain":[1,10000],"nice":false},"axis":{"title":null,"tickCount":40,"labelOverlap":false,"labelFlush":false,"labelExpr":"datum.value==1?'10⁰':datum.value==10?'10¹':datum.value==100?'10²':datum.value==1000?'10³':datum.value==10000?'10⁴':''","tickSize":{"condition":{"test":"datum.value==1||datum.value==10||datum.value==100||datum.value==1000||datum.value==10000","value":5},"value":3}}},
     "y":{"field":"y","type":"quantitative","scale":{"domain":[0,250],"nice":false},"axis":{"title":"Counts","tickCount":25,"labelOverlap":false,"labelExpr":"datum.value%50==0?datum.label:''","tickSize":{"condition":{"test":"datum.value%50==0","value":5},"value":3}}}},
    "layer":[
     {"data":{"values":[{"x":1,"y":0},{"x":60,"y":1},{"x":100,"y":3},{"x":150,"y":12},{"x":250,"y":22},{"x":400,"y":28},{"x":600,"y":27},{"x":850,"y":26},{"x":1100,"y":33},{"x":1500,"y":41},{"x":1800,"y":35},{"x":2200,"y":15},{"x":2800,"y":3},{"x":3500,"y":0},{"x":10000,"y":0}]},"mark":{"type":"line","stroke":"#5a5a5a","strokeWidth":1.4,"interpolate":"monotone"}},
     {"data":{"values":[{"x":330,"x2":10000,"y":103}]},"mark":"rule","encoding":{"x2":{"field":"x2"}}},
     {"data":{"values":[{"x":330,"y":91,"y2":115},{"x":10000,"y":91,"y2":115}]},"mark":"rule","encoding":{"y2":{"field":"y2"}}},
     {"data":{"values":[{"x":100,"y":213,"t":"NAC + BJOE 125 μg/mL"},{"x":18,"y":145,"t":"Δ Φ: 80.58%"},{"x":1800,"y":138,"t":"M1"}]},"mark":"text","encoding":{"text":{"field":"t"}}}
    ]},
   {"width":157,"height":107,
    "encoding":{"x":{"field":"x","type":"quantitative","scale":{"type":"log","domain":[1,10000],"nice":false},"axis":{"title":null,"tickCount":40,"labelOverlap":false,"labelFlush":false,"labelExpr":"datum.value==1?'10⁰':datum.value==10?'10¹':datum.value==100?'10²':datum.value==1000?'10³':datum.value==10000?'10⁴':''","tickSize":{"condition":{"test":"datum.value==1||datum.value==10||datum.value==100||datum.value==1000||datum.value==10000","value":5},"value":3}}},
     "y":{"field":"y","type":"quantitative","scale":{"domain":[0,250],"nice":false},"axis":{"title":null,"tickCount":25,"labelOverlap":false,"labelExpr":"datum.value%50==0?datum.label:''","tickSize":{"condition":{"test":"datum.value%50==0","value":5},"value":3}}}},
    "layer":[
     {"data":{"values":[{"x":1,"y":0},{"x":30,"y":1},{"x":100,"y":3},{"x":200,"y":6},{"x":400,"y":20},{"x":600,"y":40},{"x":800,"y":55},{"x":1000,"y":62},{"x":1200,"y":58},{"x":1600,"y":35},{"x":2200,"y":12},{"x":3000,"y":3},{"x":5000,"y":0},{"x":10000,"y":0}]},"mark":{"type":"line","stroke":"#5a5a5a","strokeWidth":1.4,"interpolate":"monotone"}},
     {"data":{"values":[{"x":300,"x2":10000,"y":103}]},"mark":"rule","encoding":{"x2":{"field":"x2"}}},
     {"data":{"values":[{"x":300,"y":91,"y2":115},{"x":10000,"y":91,"y2":115}]},"mark":"rule","encoding":{"y2":{"field":"y2"}}},
     {"data":{"values":[{"x":100,"y":213,"t":"NAC + BJOE 250 μg/mL"},{"x":11.5,"y":145,"t":"Δ Φ: 91.45%"},{"x":1800,"y":138,"t":"M1"}]},"mark":"text","encoding":{"text":{"field":"t"}}}
    ]},
   {"width":157,"height":107,
    "encoding":{"x":{"field":"x","type":"quantitative","scale":{"type":"log","domain":[1,10000],"nice":false},"axis":{"title":null,"tickCount":40,"labelOverlap":false,"labelFlush":false,"labelExpr":"datum.value==1?'10⁰':datum.value==10?'10¹':datum.value==100?'10²':datum.value==1000?'10³':datum.value==10000?'10⁴':''","tickSize":{"condition":{"test":"datum.value==1||datum.value==10||datum.value==100||datum.value==1000||datum.value==10000","value":5},"value":3}}},
     "y":{"field":"y","type":"quantitative","scale":{"domain":[0,250],"nice":false},"axis":{"title":null,"tickCount":25,"labelOverlap":false,"labelExpr":"datum.value%50==0?datum.label:''","tickSize":{"condition":{"test":"datum.value%50==0","value":5},"value":3}}}},
    "layer":[
     {"data":{"values":[{"x":1,"y":0},{"x":50,"y":1},{"x":100,"y":3},{"x":200,"y":8},{"x":400,"y":12},{"x":600,"y":18},{"x":800,"y":40},{"x":1000,"y":85},{"x":1200,"y":102},{"x":1400,"y":90},{"x":1700,"y":50},{"x":2200,"y":12},{"x":2800,"y":2},{"x":3500,"y":0},{"x":10000,"y":0}]},"mark":{"type":"line","stroke":"#5a5a5a","strokeWidth":1.4,"interpolate":"monotone"}},
     {"data":{"values":[{"x":316,"x2":10000,"y":103}]},"mark":"rule","encoding":{"x2":{"field":"x2"}}},
     {"data":{"values":[{"x":316,"y":91,"y2":115},{"x":10000,"y":91,"y2":115}]},"mark":"rule","encoding":{"y2":{"field":"y2"}}},
     {"data":{"values":[{"x":100,"y":213,"t":"NAC + BJOE 500 μg/mL"},{"x":17,"y":145,"t":"Δ Φ: 88.52%"},{"x":1400,"y":138,"t":"M1"}]},"mark":"text","encoding":{"text":{"field":"t"}}}
    ]}
  ]}
 ]}
],"spacing":26},
{"spacing":0,"hconcat":[
{"title":{"text":"(e)","orient":"bottom","anchor":"middle","offset":20},"spacing":10,"vconcat":[
 {"spacing":-5,"hconcat":[
  {"width":155,"height":102,
   "encoding":{"x":{"field":"x","type":"quantitative","scale":{"domain":[0,1000],"nice":false},"axis":{"title":null,"format":"d","tickCount":20,"labelOverlap":false,"labelFlush":false,"labelExpr":"datum.value%200==0?datum.label:''","tickSize":{"condition":{"test":"datum.value%200==0","value":5},"value":3}}},
    "y":{"field":"y","type":"quantitative","scale":{"domain":[0,24],"nice":false},"axis":{"title":"Counts","titlePadding":7,"tickCount":12,"labelOverlap":false,"labelExpr":"datum.value==0||datum.value==24?datum.label:''","tickSize":{"condition":{"test":"datum.value==0||datum.value==24","value":5},"value":3}}}},
   "layer":[
    {"data":{"values":[{"x":0,"y":0},{"x":8,"y":0},{"x":10,"y":6},{"x":20,"y":6.8},{"x":40,"y":6.5},{"x":60,"y":6},{"x":80,"y":4.5},{"x":100,"y":3},{"x":130,"y":2},{"x":160,"y":1.5},{"x":185,"y":1.5},{"x":190,"y":8},{"x":195,"y":20},{"x":200,"y":24.5},{"x":206,"y":24.5},{"x":211,"y":6},{"x":218,"y":2},{"x":260,"y":1.6},{"x":300,"y":1.6},{"x":340,"y":1.8},{"x":370,"y":3},{"x":385,"y":3.6},{"x":395,"y":2.5},{"x":405,"y":0.6},{"x":450,"y":0.3},{"x":600,"y":0.2},{"x":700,"y":0.1},{"x":1000,"y":0}]},"mark":{"type":"line","stroke":"#333","strokeWidth":1,"clip":true}},
    {"data":{"values":[{"x":560,"y":19.3,"t":"CAT + BJOE"},{"x":565,"y":13.9,"t":"125 μg/mL"},{"x":560,"y":8,"t":"subG1: 31.41%"}]},"mark":"text","encoding":{"text":{"field":"t"}}}
   ]},
  {"width":155,"height":102,
   "encoding":{"x":{"field":"x","type":"quantitative","scale":{"domain":[0,1000],"nice":false},"axis":{"title":null,"format":"d","tickCount":20,"labelOverlap":false,"labelFlush":false,"labelExpr":"datum.value%200==0?datum.label:''","tickSize":{"condition":{"test":"datum.value%200==0","value":5},"value":3}}},
    "y":{"field":"y","type":"quantitative","scale":{"domain":[0,24],"nice":false},"axis":{"title":null,"tickCount":12,"labelOverlap":false,"labelExpr":"datum.value==0||datum.value==24?datum.label:''","tickSize":{"condition":{"test":"datum.value==0||datum.value==24","value":5},"value":3}}}},
   "layer":[
    {"data":{"values":[{"x":0,"y":0},{"x":6,"y":0},{"x":8,"y":11},{"x":20,"y":10},{"x":40,"y":12},{"x":55,"y":12},{"x":75,"y":9},{"x":95,"y":6},{"x":120,"y":3.5},{"x":150,"y":2.2},{"x":175,"y":2.5},{"x":185,"y":6},{"x":192,"y":12.5},{"x":200,"y":8},{"x":210,"y":3},{"x":240,"y":1.8},{"x":300,"y":1.3},{"x":350,"y":1.2},{"x":380,"y":1.6},{"x":400,"y":0.8},{"x":450,"y":0.3},{"x":600,"y":0.2},{"x":750,"y":0.1},{"x":1000,"y":0}]},"mark":{"type":"line","stroke":"#333","strokeWidth":1,"clip":true}},
    {"data":{"values":[{"x":590,"y":19.3,"t":"CAT + BJOE"},{"x":590,"y":13.9,"t":"250 μg/mL"},{"x":590,"y":8,"t":"subG1: 65.24%"}]},"mark":"text","encoding":{"text":{"field":"t"}}}
   ]},
  {"width":155,"height":102,
   "encoding":{"x":{"field":"x","type":"quantitative","scale":{"domain":[0,1000],"nice":false},"axis":{"title":null,"format":"d","tickCount":20,"labelOverlap":false,"labelFlush":false,"labelExpr":"datum.value%200==0?datum.label:''","tickSize":{"condition":{"test":"datum.value%200==0","value":5},"value":3}}},
    "y":{"field":"y","type":"quantitative","scale":{"domain":[0,24],"nice":false},"axis":{"title":null,"tickCount":12,"labelOverlap":false,"labelExpr":"datum.value==0||datum.value==24?datum.label:''","tickSize":{"condition":{"test":"datum.value==0||datum.value==24","value":5},"value":3}}}},
   "layer":[
    {"data":{"values":[{"x":0,"y":0},{"x":6,"y":0},{"x":8,"y":9},{"x":15,"y":7.5},{"x":25,"y":7},{"x":40,"y":6.8},{"x":60,"y":8.5},{"x":85,"y":11},{"x":105,"y":9.5},{"x":130,"y":7.5},{"x":155,"y":6.5},{"x":175,"y":6},{"x":200,"y":4.5},{"x":230,"y":3},{"x":260,"y":2},{"x":300,"y":1.2},{"x":350,"y":0.6},{"x":400,"y":0.3},{"x":500,"y":0.1},{"x":1000,"y":0}]},"mark":{"type":"line","stroke":"#333","strokeWidth":1,"clip":true}},
    {"data":{"values":[{"x":611,"y":19.3,"t":"CAT + BJOE"},{"x":580,"y":13.9,"t":"500 μg/mL"},{"x":611,"y":8,"t":"subG1: 72.02%"}]},"mark":"text","encoding":{"text":{"field":"t"}}}
   ]}
 ]},
 {"spacing":-5,"hconcat":[
  {"width":155,"height":102,
   "encoding":{"x":{"field":"x","type":"quantitative","scale":{"domain":[0,1000],"nice":false},"axis":{"title":null,"format":"d","tickCount":20,"labelOverlap":false,"labelFlush":false,"labelExpr":"datum.value%200==0?datum.label:''","tickSize":{"condition":{"test":"datum.value%200==0","value":5},"value":3}}},
    "y":{"field":"y","type":"quantitative","scale":{"domain":[0,24],"nice":false},"axis":{"title":"Counts","titlePadding":7,"tickCount":12,"labelOverlap":false,"labelExpr":"datum.value==0||datum.value==24?datum.label:''","tickSize":{"condition":{"test":"datum.value==0||datum.value==24","value":5},"value":3}}}},
   "layer":[
    {"data":{"values":[{"x":0,"y":0},{"x":8,"y":0},{"x":10,"y":7},{"x":30,"y":7},{"x":55,"y":6.5},{"x":75,"y":4.5},{"x":95,"y":2.5},{"x":130,"y":1.6},{"x":170,"y":1.5},{"x":180,"y":4},{"x":185,"y":12},{"x":190,"y":24.5},{"x":195,"y":21},{"x":200,"y":8},{"x":208,"y":2},{"x":240,"y":1.5},{"x":300,"y":1.6},{"x":340,"y":2.4},{"x":365,"y":3},{"x":385,"y":2},{"x":395,"y":0.5},{"x":450,"y":0.3},{"x":600,"y":0.2},{"x":1000,"y":0}]},"mark":{"type":"line","stroke":"#333","strokeWidth":1,"clip":true}},
    {"data":{"values":[{"x":565,"y":19.2,"t":"NAC + BJOE"},{"x":565,"y":13.8,"t":"125 μg/mL"},{"x":560,"y":7.8,"t":"subG1: 37.03%"}]},"mark":"text","encoding":{"text":{"field":"t"}}}
   ]},
  {"width":155,"height":102,
   "encoding":{"x":{"field":"x","type":"quantitative","scale":{"domain":[0,1000],"nice":false},"axis":{"title":null,"format":"d","tickCount":20,"labelOverlap":false,"labelFlush":false,"labelExpr":"datum.value%200==0?datum.label:''","tickSize":{"condition":{"test":"datum.value%200==0","value":5},"value":3}}},
    "y":{"field":"y","type":"quantitative","scale":{"domain":[0,24],"nice":false},"axis":{"title":null,"tickCount":12,"labelOverlap":false,"labelExpr":"datum.value==0||datum.value==24?datum.label:''","tickSize":{"condition":{"test":"datum.value==0||datum.value==24","value":5},"value":3}}}},
   "layer":[
    {"data":{"values":[{"x":0,"y":0},{"x":6,"y":0},{"x":8,"y":13},{"x":20,"y":12.5},{"x":40,"y":12},{"x":60,"y":10},{"x":80,"y":7},{"x":100,"y":5},{"x":130,"y":3},{"x":160,"y":2},{"x":180,"y":2.8},{"x":190,"y":8},{"x":198,"y":5},{"x":210,"y":2},{"x":250,"y":1},{"x":350,"y":0.8},{"x":380,"y":1.2},{"x":400,"y":0.4},{"x":500,"y":0.1},{"x":1000,"y":0}]},"mark":{"type":"line","stroke":"#333","strokeWidth":1,"clip":true}},
    {"data":{"values":[{"x":588,"y":19.2,"t":"NAC + BJOE"},{"x":588,"y":13.8,"t":"250 μg/mL"},{"x":588,"y":7.8,"t":"subG1: 72.72%"}]},"mark":"text","encoding":{"text":{"field":"t"}}}
   ]},
  {"width":155,"height":102,
   "encoding":{"x":{"field":"x","type":"quantitative","scale":{"domain":[0,1000],"nice":false},"axis":{"title":null,"format":"d","tickCount":20,"labelOverlap":false,"labelFlush":false,"labelExpr":"datum.value%200==0?datum.label:''","tickSize":{"condition":{"test":"datum.value%200==0","value":5},"value":3}}},
    "y":{"field":"y","type":"quantitative","scale":{"domain":[0,24],"nice":false},"axis":{"title":null,"tickCount":12,"labelOverlap":false,"labelExpr":"datum.value==0||datum.value==24?datum.label:''","tickSize":{"condition":{"test":"datum.value==0||datum.value==24","value":5},"value":3}}}},
   "layer":[
    {"data":{"values":[{"x":0,"y":0},{"x":6,"y":0},{"x":8,"y":9},{"x":15,"y":7},{"x":30,"y":7.2},{"x":50,"y":7.8},{"x":75,"y":9},{"x":110,"y":8.5},{"x":140,"y":7},{"x":165,"y":5.5},{"x":185,"y":4.5},{"x":195,"y":5.5},{"x":210,"y":3.5},{"x":250,"y":2},{"x":300,"y":0.8},{"x":350,"y":0.4},{"x":500,"y":0.1},{"x":1000,"y":0}]},"mark":{"type":"line","stroke":"#333","strokeWidth":1,"clip":true}},
    {"data":{"values":[{"x":611,"y":19.2,"t":"NAC + BJOE"},{"x":590,"y":13.8,"t":"500 μg/mL"},{"x":611,"y":7.8,"t":"subG1: 72.6%"}]},"mark":"text","encoding":{"text":{"field":"t"}}}
   ]}
 ]}
]},
{"width":13,"height":10,"data":{"values":[]},"mark":{"type":"point","opacity":0},"view":{"stroke":null}}
]}
]}
]
}
